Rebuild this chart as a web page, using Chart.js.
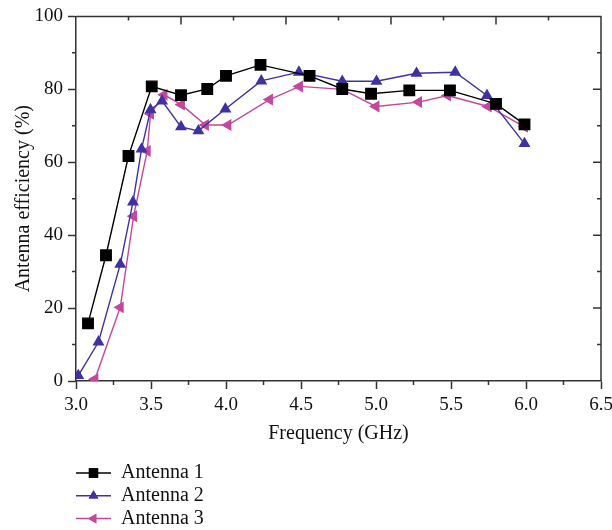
<!DOCTYPE html>
<html lang="en">

<head>
    <meta charset="UTF-8">
    <title>Antenna efficiency</title>
    <script src="https://cdn.jsdelivr.net/npm/chart.js"></script>
    <style>
        body { margin: 0; background: #fff; }
    </style>
</head>

<body>
    <canvas id="effChart" width="612" height="530"></canvas>

    <script>
        // Data (frequency in GHz, efficiency in %)
        const freq1 = [3.08, 3.20, 3.35, 3.505, 3.70, 3.875, 4.00, 4.23, 4.557, 4.775, 4.967, 5.222, 5.493, 5.80, 5.99];
        const eff1 = [15.8, 34.5, 61.7, 80.8, 78.4, 80.1, 83.7, 86.7, 83.7, 80.1, 78.8, 79.7, 79.7, 76.0, 70.4];

        const freq2 = [3.015, 3.15, 3.295, 3.38, 3.437, 3.497, 3.574, 3.70, 3.816, 3.996, 4.235, 4.486, 4.775, 5.003, 5.27, 5.528, 5.74, 5.99];
        const eff2 = [1.5, 10.7, 32.0, 49.1, 63.6, 74.4, 76.8, 69.7, 68.6, 74.6, 82.3, 84.7, 82.2, 82.2, 84.4, 84.7, 78.3, 65.1];

        const freq3 = [3.126, 3.295, 3.384, 3.475, 3.497, 3.587, 3.703, 3.863, 4.013, 4.29, 4.49, 4.775, 5.00, 5.284, 5.477, 5.748, 5.99];
        const eff3 = [0.5, 20.2, 45.2, 63.1, 73.3, 78.5, 75.8, 70.2, 70.2, 77.2, 80.8, 80.0, 75.3, 76.5, 78.3, 75.3, 69.7];

        const seriesNames = ["Antenna 1", "Antenna 2", "Antenna 3"];
        const xTickLabels = ["3.0", "3.5", "4.0", "4.5", "5.0", "5.5", "6.0", "6.5"];
        const yTickLabels = ["0", "20", "40", "60", "80", "100"];

        const AXIS = "#333333";
        const FONT = "'Liberation Serif', 'Times New Roman', serif";

        function toPoints(xs, ys) {
            return xs.map((x, i) => ({ x: x, y: ys[i] }));
        }

        // minor ticks, the top/right frame and the stacked legend
        const frameTicks = {
            id: "frameTicks",
            afterDraw(chart) {
                const ctx = chart.ctx;
                const a = chart.chartArea;
                const xs = chart.scales.x;
                const ys = chart.scales.y;
                ctx.save();
                ctx.strokeStyle = AXIS;
                ctx.lineWidth = 1.5;

                // top and right frame
                ctx.beginPath();
                ctx.moveTo(a.left, a.top);
                ctx.lineTo(a.right, a.top);
                ctx.lineTo(a.right, a.bottom);
                ctx.stroke();

                ctx.beginPath();
                // bottom minor ticks (outward)
                for (let v = 3.25; v < 6.5; v += 0.5) {
                    const px = xs.getPixelForValue(v);
                    ctx.moveTo(px, a.bottom);
                    ctx.lineTo(px, a.bottom + 4);
                }
                // left minor ticks (outward)
                for (let v = 10; v < 100; v += 20) {
                    const py = ys.getPixelForValue(v);
                    ctx.moveTo(a.left, py);
                    ctx.lineTo(a.left - 4, py);
                }
                // top ticks (inward), ten steps across the axis
                for (let k = 1; k < 10; k++) {
                    const px = xs.getPixelForValue(3 + k * 0.35);
                    ctx.moveTo(px, a.top);
                    ctx.lineTo(px, a.top + (k % 2 === 0 ? 8 : 4));
                }
                // right ticks (inward)
                for (let v = 10; v < 100; v += 10) {
                    const py = ys.getPixelForValue(v);
                    ctx.moveTo(a.right, py);
                    ctx.lineTo(a.right - (v % 20 === 0 ? 8 : 4), py);
                }
                ctx.stroke();

                // legend, one entry per row under the axis title
                const lx = a.left;
                const top = 473;
                chart.data.datasets.forEach((ds, i) => {
                    const y = top + i * 22.8;
                    ctx.strokeStyle = ds.borderColor;
                    ctx.lineWidth = 1.5;
                    ctx.beginPath();
                    ctx.moveTo(lx, y);
                    ctx.lineTo(lx + 35, y);
                    ctx.stroke();
                    Chart.helpers.drawPoint(ctx, {
                        pointStyle: ds.pointStyle,
                        rotation: ds.pointRotation || 0,
                        radius: ds.pointRadius * 0.75,
                        borderWidth: 1
                    }, lx + 17.5, y);
                    ctx.fillStyle = ds.pointBackgroundColor;
                    ctx.strokeStyle = ds.borderColor;
                    ctx.fill();
                    ctx.stroke();
                    ctx.fillStyle = "#111";
                    ctx.font = "20px " + FONT;
                    ctx.textBaseline = "middle";
                    ctx.textAlign = "left";
                    ctx.fillText(ds.label, lx + 45, y);
                });
                ctx.restore();
            }
        };

        const ctx = document.getElementById("effChart").getContext("2d");
        const chart = new Chart(ctx, {
            type: "line",
            data: {
                datasets: [{
                    label: seriesNames[0],
                    data: toPoints(freq1, eff1),
                    borderColor: "#000000",
                    backgroundColor: "#000000",
                    pointBackgroundColor: "#000000",
                    pointBorderColor: "#000000",
                    pointStyle: "rect",
                    pointRadius: 7.4,
                    borderWidth: 1.4
                }, {
                    label: seriesNames[1],
                    data: toPoints(freq2, eff2),
                    borderColor: "#3f32a0",
                    backgroundColor: "#3f32a0",
                    pointBackgroundColor: "#3f32a0",
                    pointBorderColor: "#3f32a0",
                    pointStyle: "triangle",
                    pointRadius: 5.5,
                    borderWidth: 1.4
                }, {
                    label: seriesNames[2],
                    data: toPoints(freq3, eff3),
                    borderColor: "#c2489f",
                    backgroundColor: "#c2489f",
                    pointBackgroundColor: "#c2489f",
                    pointBorderColor: "#c2489f",
                    pointStyle: "triangle",
                    pointRotation: -90,
                    pointRadius: 5.5,
                    borderWidth: 1.4
                }]
            },
            options: {
                responsive: false,
                animation: false,
                layout: { padding: { top: 16, right: 0, left: 0, bottom: 0 } },
                plugins: {
                    legend: { display: false },
                    tooltip: { enabled: false }
                },
                scales: {
                    x: {
                        type: "linear",
                        min: 3,
                        max: 6.5,
                        afterFit: s => {
                            s.height = 149;
                            s.paddingLeft = 0;
                            s.paddingRight = 11;
                        },
                        afterBuildTicks: s => {
                            s.ticks = xTickLabels.map(t => ({ value: parseFloat(t) }));
                        },
                        ticks: {
                            callback: (v, i) => xTickLabels[i],
                            font: { family: FONT, size: 19 },
                            color: "#111",
                            padding: 5,
                            maxRotation: 0
                        },
                        grid: {
                            drawOnChartArea: false,
                            tickLength: 8,
                            tickColor: AXIS,
                            tickWidth: 1.5
                        },
                        border: { color: AXIS, width: 1.5 },
                        title: {
                            display: true,
                            text: "Frequency (GHz)",
                            font: { family: FONT, size: 20 },
                            color: "#111",
                            padding: { top: 0, bottom: 84 }
                        }
                    },
                    y: {
                        min: 0,
                        max: 100,
                        afterFit: s => { s.width = 76; },
                        afterBuildTicks: s => {
                            s.ticks = yTickLabels.map(t => ({ value: parseFloat(t) }));
                        },
                        ticks: {
                            callback: (v, i) => yTickLabels[i],
                            font: { family: FONT, size: 19 },
                            color: "#111",
                            padding: 5
                        },
                        grid: {
                            drawOnChartArea: false,
                            tickLength: 8,
                            tickColor: AXIS,
                            tickWidth: 1.5
                        },
                        border: { color: AXIS, width: 1.5 },
                        title: {
                            display: true,
                            text: "Antenna efficiency (%)",
                            font: { family: FONT, size: 20 },
                            color: "#111",
                            padding: { top: 12, bottom: 0 }
                        }
                    }
                }
            },
            plugins: [frameTicks]
        });
    </script>
</body>

</html>
